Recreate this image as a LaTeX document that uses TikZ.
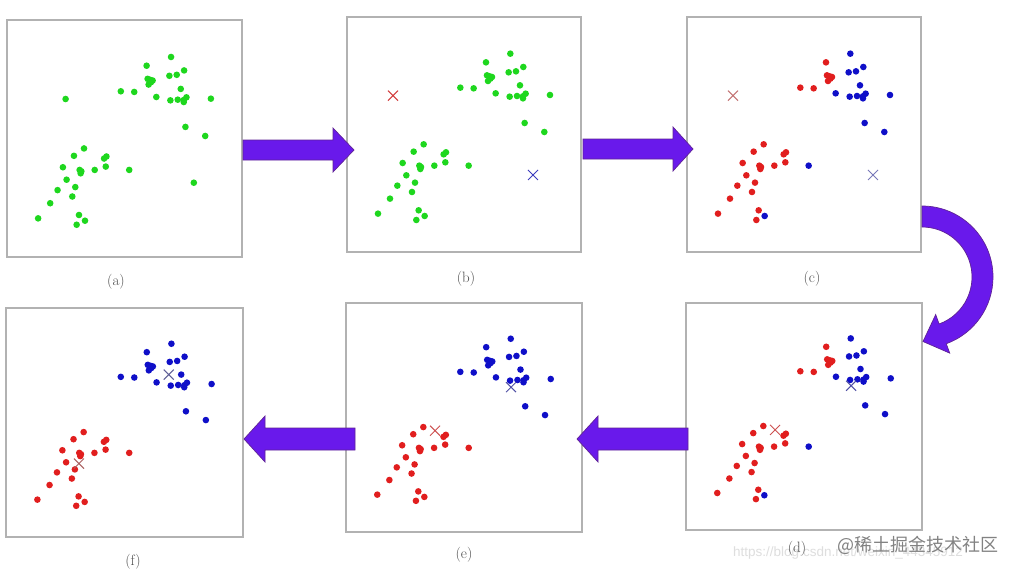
\documentclass[tikz,border=0pt]{standalone}
\usepackage{fontspec}
\usetikzlibrary{shapes.misc}
\newfontfamily\cjk{Noto Sans CJK SC}
\newfontfamily\wmfont{Liberation Sans}
\definecolor{ptgreen}{RGB}{30,215,30}
\definecolor{ptred}{RGB}{225,30,30}
\definecolor{ptblue}{RGB}{15,15,200}
\definecolor{boxgray}{RGB}{178,178,178}
\definecolor{arrowfill}{RGB}{105,25,235}
\definecolor{arrowedge}{RGB}{95,35,150}
\definecolor{labelgray}{RGB}{80,80,80}
\definecolor{xredb}{RGB}{210,60,60}
\definecolor{xblueb}{RGB}{60,60,190}
\definecolor{xredc}{RGB}{195,115,115}
\definecolor{xbluec}{RGB}{120,120,185}
\definecolor{xredd}{RGB}{205,80,80}
\definecolor{xblued}{RGB}{80,80,165}
\definecolor{xredf}{RGB}{170,95,95}
\definecolor{xbluef}{RGB}{95,95,150}
\tikzset{
  dot/.style={circle, inner sep=0pt, minimum size=6.6pt, draw=none},
  xmark/.style={cross out, draw, inner sep=0pt, minimum size=9pt, line width=1pt},
  panelbox/.style={draw=boxgray, line width=1.3pt},
  fatarrow/.style={fill=arrowfill, draw=arrowedge, line width=0.7pt, line join=miter},
  caption/.style={text=labelgray, font=\fontsize{15}{15}\selectfont, inner sep=0pt},
}
% #1 prefix, #2 colour upper-left group, #3 colour upper-right group, #4 lower group, #5 lower outliers
\newcommand\kmpoints[5]{%
  \foreach \px/\py in {417/136,420/175,430/185,423/192,435/180,428/178,340/212,380/214}
    \node[dot,fill=#2] (#1A\px-\py) at (\px,\py) {};
  \foreach \px/\py in {490/110,485/166,507/163,529/150,446/229,519/205,488/239,510/237,528/238,536/230,528/244,609/234,533/318,592/345}
    \node[dot,fill=#3] (#1B\px-\py) at (\px,\py) {};
  \foreach \px/\py in {230/382,200/404,290/412,297/406,167/438,217/446,220/456,222/450,262/446,295/436,178/475,204/497,151/506,195/525,129/545,93/590,215/580,208/609}
    \node[dot,fill=#4] (#1C\px-\py) at (\px,\py) {};
  \foreach \px/\py in {365/446,233/597}
    \node[dot,fill=#5] (#1D\px-\py) at (\px,\py) {};
}
\begin{document}
\begin{tikzpicture}[x=1pt,y=-1pt]
\useasboundingbox[fill=white] (0,0) rectangle (1014,573);

% faint watermark
\node[text={rgb,255:red,222;green,222;blue,222}, font=\wmfont\fontsize{13.5}{14}\selectfont, anchor=west, inner sep=0pt] (wmurl) at (733,553) {https://blog.csdn.net/weixin\_44345912};

% panel boxes
\draw[panelbox] (7,20) rectangle (242,257);
\draw[panelbox] (347,17) rectangle (581,252);
\draw[panelbox] (687,17) rectangle (921,252);
\draw[panelbox] (686,303) rectangle (922,530);
\draw[panelbox] (346,303) rectangle (582,532);
\draw[panelbox] (6,308) rectangle (243,537);

% (a)
\begin{scope}[shift={(7,20)}, xscale=0.3348, yscale=0.3362]
  \kmpoints{a}{ptgreen}{ptgreen}{ptgreen}{ptgreen}
  \node[dot,fill=ptgreen] (ae1) at (175,235) {};
  \node[dot,fill=ptgreen] (ae2) at (558,484) {};
\end{scope}
% (b)
\begin{scope}[shift={(347,17)}, xscale=0.3333, yscale=0.3333]
  \kmpoints{b}{ptgreen}{ptgreen}{ptgreen}{ptgreen}
  \node[xmark,draw=xredb] (bxr) at (138,236) {};
  \node[xmark,draw=xblueb] (bxb) at (558,474) {};
\end{scope}
% (c)
\begin{scope}[shift={(687,17)}, xscale=0.3333, yscale=0.3333]
  \kmpoints{c}{ptred}{ptblue}{ptred}{ptblue}
  \node[xmark,draw=xredc] (cxr) at (138,236) {};
  \node[xmark,draw=xbluec] (cxb) at (558,474) {};
\end{scope}
% (d)
\begin{scope}[shift={(686,303)}, xscale=0.3362, yscale=0.3220]
  \kmpoints{d}{ptred}{ptblue}{ptred}{ptblue}
  \node[xmark,draw=xredd] (dxr) at (265,394) {};
  \node[xmark,draw=xblued] (dxb) at (491,257) {};
\end{scope}
% (e)
\begin{scope}[shift={(346,303)}, xscale=0.3362, yscale=0.3248]
  \kmpoints{e}{ptblue}{ptblue}{ptred}{ptred}
  \node[xmark,draw=xredd] (exr) at (265,393) {};
  \node[xmark,draw=xblued] (exb) at (491,259) {};
\end{scope}
% (f)
\begin{scope}[shift={(6,308)}, xscale=0.3376, yscale=0.3248]
  \kmpoints{f}{ptblue}{ptblue}{ptred}{ptred}
  \node[xmark,draw=xredf] (fxr) at (216,479) {};
  \node[xmark,draw=xbluef] (fxb) at (482,205) {};
\end{scope}

% straight block arrows
\draw[fatarrow] (243,140) -- (333,140) -- (333,128) -- (354,150) -- (333,172) -- (333,160) -- (243,160) -- cycle;
\draw[fatarrow] (583,139) -- (673,139) -- (673,127) -- (693,149) -- (673,171) -- (673,159) -- (583,159) -- cycle;
\draw[fatarrow] (688,428) -- (598,428) -- (598,416) -- (577,439) -- (598,462) -- (598,450) -- (688,450) -- cycle;
\draw[fatarrow] (355,428) -- (265,428) -- (265,416) -- (244,439) -- (265,462) -- (265,450) -- (355,450) -- cycle;

% curved arrow
\begin{scope}[shift={(922,277)}, yscale=-1]
  \draw[fatarrow] (90:71) arc[start angle=90, end angle=-70, radius=71]
    -- (-70:81) -- (1.0,-64.5) -- (-70:40) -- (-70:50)
    arc[start angle=-70, end angle=90, radius=50] -- cycle;
\end{scope}

% captions
\node[caption] (la) at (116,282) {(a)};
\node[caption] (lb) at (466,279) {(b)};
\node[caption] (lc) at (812,279) {(c)};
\node[caption] (ld) at (797,549) {(d)};
\node[caption] (le) at (464,555) {(e)};
\node[caption] (lf) at (133,562) {(f)};

% watermark
\node[text={rgb,255:red,130;green,130;blue,130}, font=\cjk\fontsize{18}{19}\selectfont, anchor=west, inner sep=0pt] (wm) at (837,545) {@稀土掘金技术社区};
\end{tikzpicture}
\end{document}
